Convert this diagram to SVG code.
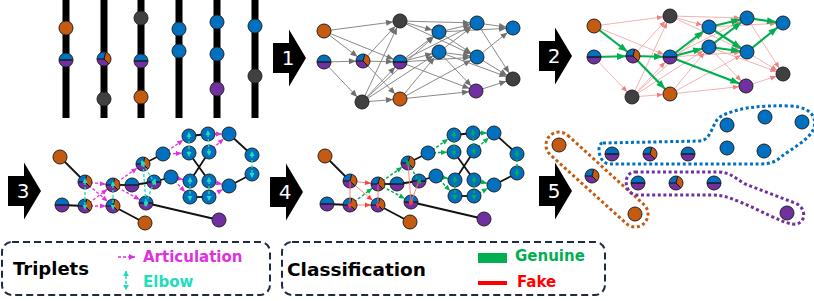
<svg xmlns="http://www.w3.org/2000/svg" xmlns:xlink="http://www.w3.org/1999/xlink" width="814" height="301" viewBox="0 0 814 301">
<style>
.bar{fill:#000}
.ln{fill:none}
.ge{stroke:#8a8a8a;stroke-width:1;marker-end:url(#aG)}
.pk{stroke:#f3a8a8;stroke-width:0.9;marker-end:url(#aP)}
.gn{stroke:#00b050;stroke-width:2.2;marker-end:url(#aGr)}
.bk{stroke:#111;stroke-width:1.8}
.mg{stroke:#dd33dd;stroke-width:1.3;stroke-dasharray:3 2;marker-end:url(#aM)}
.cy{stroke:#22ddbb;stroke-width:1.3;stroke-dasharray:3 2;marker-start:url(#eC);marker-end:url(#eC)}
.gd{stroke:#00b050;stroke-width:1.5;stroke-dasharray:3 2;marker-end:url(#aGd)}
.gel{stroke:#00b050;stroke-width:1.5;stroke-dasharray:3 2;marker-start:url(#eG);marker-end:url(#eG)}
.rd{stroke:#ff7070;stroke-width:0.9;marker-end:url(#aR)}
.rel{stroke:#ff7070;stroke-width:0.9;marker-end:url(#eR)}
.num{fill:#fff;font-family:"DejaVu Sans",sans-serif;font-size:20px;text-anchor:middle}
.lg{fill:none;stroke:#1f2a44;stroke-width:2;stroke-dasharray:7 4}
.t1{font-family:"DejaVu Sans",sans-serif;font-weight:bold;font-size:18px;fill:#000}
.t2{font-family:"DejaVu Sans",sans-serif;font-weight:bold;font-size:15px}
.dot{fill:none;stroke-width:3;stroke-dasharray:3 2.6}
.nd{stroke:#222;stroke-width:1}
</style>
<defs>
<marker id="aG" markerUnits="userSpaceOnUse" markerWidth="8" markerHeight="6" refX="14" refY="3" orient="auto" overflow="visible"><path d="M0,0 L7,3 L0,6 Z" fill="#6f6f6f"/></marker>
<marker id="aP" markerUnits="userSpaceOnUse" markerWidth="7" markerHeight="5" refX="13" refY="2.5" orient="auto" overflow="visible"><path d="M0,0 L6,2.5 L0,5 Z" fill="#ee8080"/></marker>
<marker id="aGr" markerUnits="userSpaceOnUse" markerWidth="10" markerHeight="8" refX="16" refY="3.5" orient="auto" overflow="visible"><path d="M0,0 L9,3.5 L0,7 Z" fill="#00b050"/></marker>
<marker id="aM" markerUnits="userSpaceOnUse" markerWidth="7" markerHeight="5" refX="13" refY="2.5" orient="auto" overflow="visible"><path d="M0,0 L6,2.5 L0,5 Z" fill="#dd33dd"/></marker>
<marker id="aM0" markerUnits="userSpaceOnUse" markerWidth="7" markerHeight="6" refX="6" refY="3" orient="auto" overflow="visible"><path d="M0,0 L6,3 L0,6 Z" fill="#dd33dd"/></marker>
<marker id="eC" markerUnits="userSpaceOnUse" markerWidth="6" markerHeight="5" refX="1" refY="2.5" orient="auto-start-reverse" overflow="visible"><path d="M0,0 L5,2.5 L0,5 Z" fill="#22ddbb"/></marker>
<marker id="eC0" markerUnits="userSpaceOnUse" markerWidth="6" markerHeight="6" refX="5" refY="3" orient="auto-start-reverse" overflow="visible"><path d="M0,0 L5,3 L0,6 Z" fill="#22ddbb"/></marker>
<marker id="aGd" markerUnits="userSpaceOnUse" markerWidth="7" markerHeight="5" refX="13" refY="2.5" orient="auto" overflow="visible"><path d="M0,0 L6,2.5 L0,5 Z" fill="#00b050"/></marker>
<marker id="eG" markerUnits="userSpaceOnUse" markerWidth="6" markerHeight="5" refX="1" refY="2.5" orient="auto-start-reverse" overflow="visible"><path d="M0,0 L5,2.5 L0,5 Z" fill="#00b050"/></marker>
<marker id="aR" markerUnits="userSpaceOnUse" markerWidth="7" markerHeight="5" refX="13" refY="2.5" orient="auto" overflow="visible"><path d="M0,0 L6,2.5 L0,5 Z" fill="#ff4040"/></marker>
<marker id="eR" markerUnits="userSpaceOnUse" markerWidth="6" markerHeight="5" refX="1" refY="2.5" orient="auto" overflow="visible"><path d="M0,0 L5,2.5 L0,5 Z" fill="#ff4040"/></marker>
<path id="arr" d="M0,-15 H16 V-28.5 L33,0 L16,28.5 V15 H0 Z" fill="#000"/>
<g id="B"><circle r="7" fill="#0070c0" class="nd"/></g>
<g id="O"><circle r="7" fill="#c55a11" class="nd"/></g>
<g id="P"><circle r="7" fill="#7030a0" class="nd"/></g>
<g id="G"><circle r="7" fill="#404040" class="nd"/></g>
<g id="BP"><path d="M-7,0 A7,7 0 0 1 7,0 Z" fill="#0070c0"/><path d="M7,0 A7,7 0 0 1 -7,0 Z" fill="#7030a0"/><path d="M-7,0 H7" stroke="#111" stroke-width="1.3"/><circle r="7" fill="none" class="nd"/></g>
<g id="T"><path d="M0,0 L-7,0 A7,7 0 0 1 1.81,-6.76 Z" fill="#0070c0"/><path d="M0,0 L1.81,-6.76 A7,7 0 0 1 4.95,4.95 Z" fill="#c55a11"/><path d="M0,0 L4.95,4.95 A7,7 0 0 1 -7,0 Z" fill="#7030a0"/><path d="M-7,0 L0,0 L1.81,-6.76 M0,0 L4.95,4.95" fill="none" stroke="#111" stroke-width="1"/><circle r="7" fill="none" class="nd"/></g>
</defs>
<rect width="814" height="301" fill="#fff"/>

<!-- step arrows -->
<g id="step1"><use href="#arr" x="273" y="58"/><text class="num" x="288" y="65">1</text></g>
<g id="step2"><use href="#arr" x="539" y="56"/><text class="num" x="554" y="63">2</text></g>
<g id="step3"><use href="#arr" x="8" y="191"/><text class="num" x="23" y="198">3</text></g>
<g id="step4"><use href="#arr" x="270" y="192"/><text class="num" x="285" y="199">4</text></g>
<g id="step5"><use href="#arr" x="539" y="191"/><text class="num" x="554" y="198">5</text></g>

<!-- panel 1: detector layers -->
<g id="layers">
<rect class="bar" x="62.5" y="0" width="7" height="118"/>
<rect class="bar" x="100.5" y="0" width="7" height="118"/>
<rect class="bar" x="137.5" y="0" width="7" height="118"/>
<rect class="bar" x="175.5" y="0" width="7" height="118"/>
<rect class="bar" x="213.5" y="0" width="7" height="118"/>
<rect class="bar" x="251.5" y="0" width="7" height="118"/>
</g>
<g id="h1"><use href="#O" x="66" y="28"/></g>
<g id="h2"><use href="#BP" x="66" y="60"/></g>
<g id="h3"><use href="#T" x="104" y="59"/></g>
<g id="h4"><use href="#G" x="104" y="99"/></g>
<g id="h5"><use href="#G" x="141" y="18"/></g>
<g id="h6"><use href="#BP" x="141" y="61"/></g>
<g id="h7"><use href="#O" x="141" y="97"/></g>
<g id="h8"><use href="#B" x="179" y="29"/></g>
<g id="h9"><use href="#B" x="179" y="51"/></g>
<g id="h10"><use href="#B" x="217" y="22"/></g>
<g id="h11"><use href="#B" x="217" y="54"/></g>
<g id="h12"><use href="#P" x="217" y="89"/></g>
<g id="h13"><use href="#B" x="255" y="26"/></g>
<g id="h14"><use href="#G" x="255" y="76"/></g>

<!-- panel 2 connectors -->
<g id="edges2" class="ln">
<line class="ge" x1="324" y1="31" x2="363" y2="61"/>
<line class="ge" x1="324" y1="31" x2="400" y2="21"/>
<line class="ge" x1="324" y1="31" x2="400" y2="62"/>
<line class="ge" x1="324" y1="62" x2="363" y2="61"/>
<line class="ge" x1="324" y1="62" x2="362" y2="102"/>
<line class="ge" x1="363" y1="61" x2="400" y2="21"/>
<line class="ge" x1="363" y1="61" x2="400" y2="62"/>
<line class="ge" x1="363" y1="61" x2="400" y2="99"/>
<line class="ge" x1="362" y1="102" x2="400" y2="21"/>
<line class="ge" x1="362" y1="102" x2="400" y2="62"/>
<line class="ge" x1="362" y1="102" x2="400" y2="99"/>
<line class="ge" x1="362" y1="102" x2="439" y2="32"/>
<line class="ge" x1="362" y1="102" x2="439" y2="52"/>
<line class="ge" x1="400" y1="21" x2="439" y2="32"/>
<line class="ge" x1="400" y1="21" x2="477" y2="23"/>
<line class="ge" x1="400" y1="21" x2="477" y2="57"/>
<line class="ge" x1="400" y1="62" x2="439" y2="32"/>
<line class="ge" x1="400" y1="62" x2="439" y2="52"/>
<line class="ge" x1="400" y1="62" x2="477" y2="23"/>
<line class="ge" x1="400" y1="62" x2="477" y2="57"/>
<line class="ge" x1="400" y1="62" x2="476" y2="91"/>
<line class="ge" x1="400" y1="99" x2="439" y2="52"/>
<line class="ge" x1="400" y1="99" x2="477" y2="57"/>
<line class="ge" x1="400" y1="99" x2="476" y2="91"/>
<line class="ge" x1="439" y1="32" x2="477" y2="23"/>
<line class="ge" x1="439" y1="32" x2="477" y2="57"/>
<line class="ge" x1="439" y1="32" x2="513" y2="28"/>
<line class="ge" x1="439" y1="52" x2="477" y2="23"/>
<line class="ge" x1="439" y1="52" x2="477" y2="57"/>
<line class="ge" x1="439" y1="52" x2="476" y2="91"/>
<line class="ge" x1="439" y1="52" x2="513" y2="79"/>
<line class="ge" x1="477" y1="23" x2="513" y2="28"/>
<line class="ge" x1="477" y1="23" x2="513" y2="79"/>
<line class="ge" x1="477" y1="57" x2="513" y2="28"/>
<line class="ge" x1="477" y1="57" x2="513" y2="79"/>
<line class="ge" x1="476" y1="91" x2="513" y2="79"/>
</g>
<g id="g2a"><use href="#O" x="324" y="31"/></g>
<g id="g2b"><use href="#BP" x="324" y="62"/></g>
<g id="g2c"><use href="#T" x="363" y="61"/></g>
<g id="g2d"><use href="#G" x="362" y="102"/></g>
<g id="g2e"><use href="#G" x="400" y="21"/></g>
<g id="g2f"><use href="#BP" x="400" y="62"/></g>
<g id="g2g"><use href="#O" x="400" y="99"/></g>
<g id="g2h"><use href="#B" x="439" y="32"/></g>
<g id="g2i"><use href="#B" x="439" y="52"/></g>
<g id="g2j"><use href="#B" x="477" y="23"/></g>
<g id="g2k"><use href="#B" x="477" y="57"/></g>
<g id="g2l"><use href="#P" x="476" y="91"/></g>
<g id="g2m"><use href="#B" x="513" y="28"/></g>
<g id="g2n"><use href="#G" x="513" y="79"/></g>

<!-- panel 3 connectors -->
<g id="edges3" class="ln">
<line class="pk" x1="594" y1="26" x2="670" y2="16"/>
<line class="pk" x1="594" y1="26" x2="670" y2="57"/>
<line class="pk" x1="594" y1="57" x2="632" y2="97"/>
<line class="pk" x1="633" y1="56" x2="670" y2="16"/>
<line class="pk" x1="632" y1="97" x2="670" y2="16"/>
<line class="pk" x1="632" y1="97" x2="670" y2="57"/>
<line class="pk" x1="632" y1="97" x2="670" y2="94"/>
<line class="pk" x1="632" y1="97" x2="709" y2="27"/>
<line class="pk" x1="632" y1="97" x2="709" y2="47"/>
<line class="pk" x1="670" y1="16" x2="709" y2="27"/>
<line class="pk" x1="670" y1="16" x2="747" y2="18"/>
<line class="pk" x1="670" y1="16" x2="747" y2="52"/>
<line class="pk" x1="670" y1="57" x2="747" y2="18"/>
<line class="pk" x1="670" y1="57" x2="747" y2="52"/>
<line class="pk" x1="670" y1="94" x2="709" y2="47"/>
<line class="pk" x1="670" y1="94" x2="747" y2="52"/>
<line class="pk" x1="670" y1="94" x2="746" y2="86"/>
<line class="pk" x1="709" y1="27" x2="783" y2="23"/>
<line class="pk" x1="709" y1="47" x2="746" y2="86"/>
<line class="pk" x1="709" y1="47" x2="783" y2="74"/>
<line class="pk" x1="747" y1="18" x2="783" y2="74"/>
<line class="pk" x1="747" y1="52" x2="783" y2="74"/>
<line class="pk" x1="746" y1="86" x2="783" y2="74"/>
<line class="gn" x1="594" y1="26" x2="633" y2="56"/>
<line class="gn" x1="594" y1="57" x2="633" y2="56"/>
<line class="gn" x1="633" y1="56" x2="670" y2="57"/>
<line class="gn" x1="633" y1="56" x2="670" y2="94"/>
<line class="gn" x1="670" y1="57" x2="709" y2="27"/>
<line class="gn" x1="670" y1="57" x2="709" y2="47"/>
<line class="gn" x1="670" y1="57" x2="746" y2="86"/>
<line class="gn" x1="709" y1="27" x2="747" y2="18"/>
<line class="gn" x1="709" y1="27" x2="747" y2="52"/>
<line class="gn" x1="709" y1="47" x2="747" y2="18"/>
<line class="gn" x1="709" y1="47" x2="747" y2="52"/>
<line class="gn" x1="747" y1="18" x2="783" y2="23"/>
<line class="gn" x1="747" y1="52" x2="783" y2="23"/>
</g>
<g id="g3a"><use href="#O" x="594" y="26"/></g>
<g id="g3b"><use href="#BP" x="594" y="57"/></g>
<g id="g3c"><use href="#T" x="633" y="56"/></g>
<g id="g3d"><use href="#G" x="632" y="97"/></g>
<g id="g3e"><use href="#G" x="670" y="16"/></g>
<g id="g3f"><use href="#BP" x="670" y="57"/></g>
<g id="g3g"><use href="#O" x="670" y="94"/></g>
<g id="g3h"><use href="#B" x="709" y="27"/></g>
<g id="g3i"><use href="#B" x="709" y="47"/></g>
<g id="g3j"><use href="#B" x="747" y="18"/></g>
<g id="g3k"><use href="#B" x="747" y="52"/></g>
<g id="g3l"><use href="#P" x="746" y="86"/></g>
<g id="g3m"><use href="#B" x="783" y="23"/></g>
<g id="g3n"><use href="#G" x="783" y="74"/></g>

<!-- panel 4 connectors -->
<g id="edges4" class="ln">
<line class="bk" x1="60" y1="157" x2="85" y2="182"/>
<line class="bk" x1="62" y1="205" x2="85" y2="206"/>
<line class="bk" x1="113" y1="206" x2="145" y2="223"/>
<line class="bk" x1="113" y1="185" x2="132" y2="185"/>
<line class="bk" x1="132" y1="185" x2="154" y2="182"/>
<line class="bk" x1="143" y1="164" x2="163" y2="154"/>
<line class="bk" x1="154" y1="182" x2="171" y2="177"/>
<line class="bk" x1="146" y1="203" x2="219" y2="220"/>
<line class="bk" x1="189" y1="136" x2="208" y2="134"/>
<line class="bk" x1="190" y1="197" x2="209" y2="197"/>
<line class="bk" x1="189" y1="153" x2="209" y2="181"/>
<line class="bk" x1="209" y1="152" x2="190" y2="181"/>
<line class="bk" x1="229" y1="134" x2="252" y2="155"/>
<line class="bk" x1="252" y1="174" x2="229" y2="186"/>
<line class="mg" x1="85" y1="182" x2="113" y2="185"/>
<line class="mg" x1="85" y1="182" x2="113" y2="206"/>
<line class="mg" x1="85" y1="206" x2="113" y2="185"/>
<line class="mg" x1="85" y1="206" x2="113" y2="206"/>
<line class="mg" x1="113" y1="185" x2="143" y2="164"/>
<line class="mg" x1="113" y1="185" x2="146" y2="203"/>
<line class="mg" x1="163" y1="154" x2="189" y2="136"/>
<line class="mg" x1="163" y1="154" x2="189" y2="153"/>
<line class="mg" x1="208" y1="134" x2="229" y2="134"/>
<line class="mg" x1="209" y1="152" x2="229" y2="134"/>
<line class="mg" x1="171" y1="177" x2="190" y2="181"/>
<line class="mg" x1="171" y1="177" x2="190" y2="197"/>
<line class="mg" x1="209" y1="181" x2="229" y2="186"/>
<line class="mg" x1="209" y1="197" x2="229" y2="186"/>
</g>
<g id="t1"><use href="#O" x="60" y="157"/></g>
<g id="t2"><use href="#T" x="85" y="182"/></g>
<g id="t3"><use href="#BP" x="62" y="205"/></g>
<g id="t4"><use href="#T" x="85" y="206"/></g>
<g id="t5"><use href="#T" x="113" y="185"/></g>
<g id="t6"><use href="#T" x="113" y="206"/></g>
<g id="t7"><use href="#BP" x="132" y="185"/></g>
<g id="t8"><use href="#O" x="145" y="223"/></g>
<g id="t9"><use href="#T" x="143" y="164"/></g>
<g id="t10"><use href="#BP" x="154" y="182"/></g>
<g id="t11"><use href="#BP" x="146" y="203"/></g>
<g id="t12"><use href="#B" x="163" y="154"/></g>
<g id="t13"><use href="#B" x="171" y="177"/></g>
<g id="t14"><use href="#P" x="219" y="220"/></g>
<g id="t15"><use href="#B" x="189" y="136"/></g>
<g id="t16"><use href="#B" x="189" y="153"/></g>
<g id="t17"><use href="#B" x="208" y="134"/></g>
<g id="t18"><use href="#B" x="209" y="152"/></g>
<g id="t19"><use href="#B" x="229" y="134"/></g>
<g id="t20"><use href="#B" x="252" y="155"/></g>
<g id="t21"><use href="#B" x="252" y="174"/></g>
<g id="t22"><use href="#B" x="229" y="186"/></g>
<g id="t23"><use href="#B" x="190" y="181"/></g>
<g id="t24"><use href="#B" x="190" y="197"/></g>
<g id="t25"><use href="#B" x="209" y="181"/></g>
<g id="t26"><use href="#B" x="209" y="197"/></g>
<g id="elbows4" class="ln">
<line class="cy" x1="85" y1="182" x2="85" y2="206"/>
<line class="cy" x1="113" y1="185" x2="113" y2="206"/>
<line class="cy" x1="143" y1="164" x2="154" y2="182"/>
<line class="cy" x1="143" y1="164" x2="146" y2="203"/>
<line class="cy" x1="154" y1="182" x2="146" y2="203"/>
<line class="cy" x1="189" y1="136" x2="189" y2="153"/>
<line class="cy" x1="208" y1="134" x2="209" y2="152"/>
<line class="cy" x1="190" y1="181" x2="190" y2="197"/>
<line class="cy" x1="209" y1="181" x2="209" y2="197"/>
<line class="cy" x1="252" y1="155" x2="252" y2="174"/>
</g>

<!-- panel 5 connectors -->
<g id="edges5" class="ln">
<line class="bk" x1="325" y1="156" x2="350" y2="181"/>
<line class="bk" x1="327" y1="204" x2="350" y2="205"/>
<line class="bk" x1="378" y1="205" x2="410" y2="222"/>
<line class="bk" x1="378" y1="184" x2="397" y2="184"/>
<line class="bk" x1="397" y1="184" x2="419" y2="181"/>
<line class="bk" x1="408" y1="163" x2="428" y2="153"/>
<line class="bk" x1="419" y1="181" x2="436" y2="176"/>
<line class="bk" x1="411" y1="202" x2="484" y2="219"/>
<line class="bk" x1="454" y1="135" x2="473" y2="133"/>
<line class="bk" x1="455" y1="196" x2="474" y2="196"/>
<line class="bk" x1="454" y1="152" x2="474" y2="180"/>
<line class="bk" x1="474" y1="151" x2="455" y2="180"/>
<line class="bk" x1="494" y1="133" x2="517" y2="154"/>
<line class="bk" x1="517" y1="173" x2="494" y2="185"/>
<line class="rd" x1="350" y1="181" x2="378" y2="184"/>
<line class="rd" x1="350" y1="181" x2="378" y2="205"/>
<line class="rd" x1="350" y1="205" x2="378" y2="205"/>
<line class="gd" x1="350" y1="205" x2="378" y2="184"/>
<line class="gd" x1="378" y1="184" x2="408" y2="163"/>
<line class="gd" x1="378" y1="184" x2="411" y2="202"/>
<line class="gd" x1="428" y1="153" x2="454" y2="135"/>
<line class="gd" x1="428" y1="153" x2="454" y2="152"/>
<line class="gd" x1="473" y1="133" x2="494" y2="133"/>
<line class="gd" x1="474" y1="151" x2="494" y2="133"/>
<line class="gd" x1="436" y1="176" x2="455" y2="180"/>
<line class="gd" x1="436" y1="176" x2="455" y2="196"/>
<line class="gd" x1="474" y1="180" x2="494" y2="185"/>
<line class="gd" x1="474" y1="196" x2="494" y2="185"/>
</g>
<g id="c1"><use href="#O" x="325" y="156"/></g>
<g id="c2"><use href="#T" x="350" y="181"/></g>
<g id="c3"><use href="#BP" x="327" y="204"/></g>
<g id="c4"><use href="#T" x="350" y="205"/></g>
<g id="c5"><use href="#T" x="378" y="184"/></g>
<g id="c6"><use href="#T" x="378" y="205"/></g>
<g id="c7"><use href="#BP" x="397" y="184"/></g>
<g id="c8"><use href="#O" x="410" y="222"/></g>
<g id="c9"><use href="#T" x="408" y="163"/></g>
<g id="c10"><use href="#BP" x="419" y="181"/></g>
<g id="c11"><use href="#BP" x="411" y="202"/></g>
<g id="c12"><use href="#B" x="428" y="153"/></g>
<g id="c13"><use href="#B" x="436" y="176"/></g>
<g id="c14"><use href="#P" x="484" y="219"/></g>
<g id="c15"><use href="#B" x="454" y="135"/></g>
<g id="c16"><use href="#B" x="454" y="152"/></g>
<g id="c17"><use href="#B" x="473" y="133"/></g>
<g id="c18"><use href="#B" x="474" y="151"/></g>
<g id="c19"><use href="#B" x="494" y="133"/></g>
<g id="c20"><use href="#B" x="517" y="154"/></g>
<g id="c21"><use href="#B" x="517" y="173"/></g>
<g id="c22"><use href="#B" x="494" y="185"/></g>
<g id="c23"><use href="#B" x="455" y="180"/></g>
<g id="c24"><use href="#B" x="455" y="196"/></g>
<g id="c25"><use href="#B" x="474" y="180"/></g>
<g id="c26"><use href="#B" x="474" y="196"/></g>
<g id="elbows5" class="ln">
<line class="rel" x1="350" y1="181" x2="350" y2="205"/>
<line class="rel" x1="378" y1="184" x2="378" y2="205"/>
<line class="rel" x1="408" y1="163" x2="411" y2="202"/>
<line class="rel" x1="419" y1="181" x2="411" y2="202"/>
<line class="gel" x1="408" y1="163" x2="419" y2="181"/>
<line class="gel" x1="454" y1="135" x2="454" y2="152"/>
<line class="gel" x1="473" y1="133" x2="474" y2="151"/>
<line class="gel" x1="455" y1="180" x2="455" y2="196"/>
<line class="gel" x1="474" y1="180" x2="474" y2="196"/>
<line class="gel" x1="517" y1="154" x2="517" y2="173"/>
</g>

<!-- panel 6: track candidates -->
<g id="track-orange"><rect class="dot" stroke="#c55a11" x="-64.3" y="-13" width="128.6" height="26" rx="13" transform="translate(597 179.5) rotate(42.2)"/></g>
<g id="track-blue"><path class="dot" stroke="#0070c0" d="M603,143 L700,141 C712,140 712,122 720,117 C735,108 760,105 790,106 C815,107 818,122 812,132 C805,142 790,150 782,156 C776,162 770,164 760,164 L610,164 C598,164 596,143 603,143 Z"/></g>
<g id="track-purple"><path class="dot" stroke="#7030a0" d="M635,172 L718,172 C730,172 735,178 745,184 L795,203 C808,208 806,226 792,224 C780,222 760,210 740,202 C728,197 722,195 712,195 L637,195 C624,195 622,172 635,172 Z"/></g>
<g id="k1"><use href="#O" x="559" y="145"/></g>
<g id="k2"><use href="#T" x="592" y="176"/></g>
<g id="k3"><use href="#O" x="635" y="214"/></g>
<g id="k4"><use href="#BP" x="612" y="154"/></g>
<g id="k5"><use href="#T" x="650" y="154"/></g>
<g id="k6"><use href="#BP" x="688" y="154"/></g>
<g id="k7"><use href="#B" x="727" y="148"/></g>
<g id="k8"><use href="#B" x="764" y="151"/></g>
<g id="k9"><use href="#B" x="727" y="125"/></g>
<g id="k10"><use href="#B" x="765" y="117"/></g>
<g id="k11"><use href="#B" x="802" y="122"/></g>
<g id="k12"><use href="#BP" x="638" y="183"/></g>
<g id="k13"><use href="#T" x="676" y="183"/></g>
<g id="k14"><use href="#BP" x="714" y="183"/></g>
<g id="k15"><use href="#P" x="787" y="213"/></g>

<!-- legends -->
<g id="legend-triplets">
<rect class="lg" x="2" y="242" width="268" height="53" rx="10"/>
<text class="t1" x="13" y="275">Triplets</text>
<line x1="118" y1="257" x2="135" y2="257" stroke="#dd33dd" stroke-width="1.5" stroke-dasharray="3 2" marker-end="url(#aM0)"/>
<text class="t2" x="143" y="262" fill="#dd33dd">Articulation</text>
<line x1="126" y1="271" x2="126" y2="290" stroke="#22ddbb" stroke-width="1.5" stroke-dasharray="3 2" marker-start="url(#eC0)" marker-end="url(#eC0)"/>
<text class="t2" x="143" y="287" fill="#22ddbb">Elbow</text>
</g>
<g id="legend-classification">
<rect class="lg" x="282" y="242" width="323" height="53" rx="10"/>
<text class="t1" x="287" y="276" style="font-size:18.5px">Classification</text>
<rect x="478" y="253" width="29" height="10" fill="#00b050"/>
<text class="t2" x="515" y="261" fill="#00b050">Genuine</text>
<line x1="478" y1="283" x2="507" y2="283" stroke="#ff0000" stroke-width="4"/>
<text class="t2" x="517" y="287" fill="#ff0000">Fake</text>
</g>
</svg>
